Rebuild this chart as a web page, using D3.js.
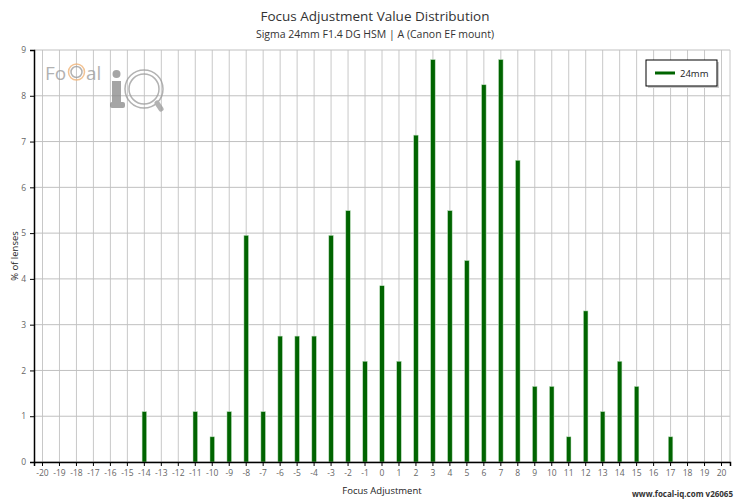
<!DOCTYPE html>
<html>
<head>
<meta charset="utf-8">
<script src="https://cdn.jsdelivr.net/npm/d3@7"></script>
<style>
  body { margin: 0; background: #fff; }
  text { font-family: "Open Sans", sans-serif; }
</style>
</head>
<body>
<svg id="chart" width="750" height="500"></svg>
<script>
// Data
var adjustments = d3.range(-20, 21);
var barSteps = [-14, -11, -10, -9, -8, -7, -6, -5, -4, -3, -2, -1, 0, 1, 2, 3, 4, 5, 6, 7, 8, 9, 10, 11, 12, 13, 14, 15, 17];
var barPercents = [1.1, 1.1, 0.55, 1.1, 4.95, 1.1, 2.75, 2.75, 2.75, 4.95, 5.49, 2.2, 3.85, 2.2, 7.14, 8.79, 5.49, 4.4, 8.24, 8.79, 6.59, 1.65, 1.65, 0.55, 3.3, 1.1, 2.2, 1.65, 0.55];
var yTicks = [0, 1, 2, 3, 4, 5, 6, 7, 8, 9];
var seriesName = "24mm";

var svg = d3.select("#chart");
var plotLeft = 34, plotRight = 730, plotTop = 50, plotBottom = 462;

var x = d3.scaleBand().domain(adjustments).range([plotLeft, plotRight]);
var y = d3.scaleLinear().domain([0, 9]).range([plotBottom, plotTop]);

// gridlines
var grid = svg.append("g");
grid.selectAll("line.v").data(adjustments).enter().append("line")
  .attr("x1", function(d) { return x(d) + x.bandwidth()/2; })
  .attr("x2", function(d) { return x(d) + x.bandwidth()/2; })
  .attr("y1", plotTop).attr("y2", plotBottom)
  .style("stroke", "#c8c8c8").style("stroke-width", 1);
grid.selectAll("line.h").data(yTicks).enter().append("line")
  .attr("x1", plotLeft).attr("x2", plotRight)
  .attr("y1", function(d) { return y(d); })
  .attr("y2", function(d) { return y(d); })
  .style("stroke", "#c0c0c0").style("stroke-width", 1);
grid.append("line").attr("x1", plotRight).attr("x2", plotRight).attr("y1", plotTop).attr("y2", plotBottom)
  .style("stroke", "#c8c8c8");

// logo watermark
var logo = svg.append("g").attr("opacity", 0.75);
logo.append("text").attr("x", 45).attr("y", 80).text("Fo")
  .style("font-size", "19px").style("fill", "#999");
logo.append("circle").attr("cx", 76.5).attr("cy", 72).attr("r", 8)
  .style("fill", "none").style("stroke", "#f0b070").style("stroke-width", 1.5);
logo.append("circle").attr("cx", 76.5).attr("cy", 72).attr("r", 5.5)
  .style("fill", "none").style("stroke", "#999").style("stroke-width", 1.5);
logo.append("text").attr("x", 86).attr("y", 80).text("al")
  .style("font-size", "19px").style("fill", "#999");
logo.append("circle").attr("cx", 116.5).attr("cy", 74).attr("r", 4).style("fill", "#888");
logo.append("rect").attr("x", 112).attr("y", 81).attr("width", 9).attr("height", 26).style("fill", "#888");
logo.append("rect").attr("x", 110).attr("y", 102).attr("width", 15).attr("height", 6).attr("rx", 2).style("fill", "#888");
logo.append("circle").attr("cx", 144).attr("cy", 89).attr("r", 19)
  .style("fill", "none").style("stroke", "#999").style("stroke-width", 1.5);
logo.append("circle").attr("cx", 144).attr("cy", 89).attr("r", 15)
  .style("fill", "none").style("stroke", "#999").style("stroke-width", 1.5);
logo.append("line").attr("x1", 157).attr("y1", 103).attr("x2", 161).attr("y2", 109)
  .style("stroke", "#999").style("stroke-width", 5).style("stroke-linecap", "round");

// bars
var bw = 4.5;
svg.append("g").selectAll("rect").data(barSteps).enter().append("rect")
  .attr("x", function(d) { return x(d) + x.bandwidth()/2 - bw/2; })
  .attr("y", function(d, i) { return y(barPercents[i]); })
  .attr("width", bw)
  .attr("height", function(d, i) { return plotBottom - y(barPercents[i]); })
  .style("fill", "#006400")
  .style("stroke", "#b8dcb8").style("stroke-width", 0.5);

// axes
var yAxis = svg.append("g").attr("transform", "translate(" + plotLeft + ",0)")
  .call(d3.axisLeft(y).tickValues(yTicks).tickSize(4).tickFormat(d3.format("d")));
var xAxis = svg.append("g").attr("transform", "translate(0," + plotBottom + ")")
  .call(d3.axisBottom(x).tickSize(4));
[yAxis, xAxis].forEach(function(a) {
  a.select(".domain").style("stroke", "#000").style("stroke-width", 1.5);
  a.selectAll(".tick line").style("stroke", "#000");
  a.selectAll(".tick text").style("fill", "#666").style("font-size", "8.5px")
    .style("font-family", "'Open Sans', sans-serif");
});
yAxis.selectAll(".tick text").attr("x", -8);
xAxis.selectAll(".tick text").attr("y", 8);

// titles
svg.append("text").attr("x", 375).attr("y", 21).attr("text-anchor", "middle")
  .text("Focus Adjustment Value Distribution")
  .style("font-size", "13.5px").style("fill", "#333");
svg.append("text").attr("x", 375).attr("y", 38).attr("text-anchor", "middle")
  .text("Sigma 24mm F1.4 DG HSM | A (Canon EF mount)")
  .style("font-size", "10.5px").style("fill", "#333");
svg.append("text").attr("x", 382).attr("y", 494).attr("text-anchor", "middle")
  .text("Focus Adjustment").style("font-size", "9.5px").style("fill", "#222");
svg.append("text").attr("transform", "translate(18,256) rotate(-90)").attr("text-anchor", "middle")
  .text("% of lenses").style("font-size", "9.5px").style("fill", "#222");
svg.append("text").attr("x", 733).attr("y", 497).attr("text-anchor", "end")
  .text("www.focal-iq.com  v26065").style("font-size", "8px").style("font-weight", "bold").style("fill", "#333");

// legend
var lg = svg.append("g");
lg.append("rect").attr("x", 648).attr("y", 62).attr("width", 71).attr("height", 26).style("fill", "#ccc");
lg.append("rect").attr("x", 646).attr("y", 60).attr("width", 71).attr("height", 26)
  .style("fill", "#fff").style("stroke", "#000").style("stroke-width", 1);
lg.append("line").attr("x1", 655).attr("x2", 675).attr("y1", 73).attr("y2", 73)
  .style("stroke", "#006400").style("stroke-width", 3);
lg.append("text").attr("x", 680).attr("y", 77).text(seriesName)
  .style("font-size", "9.5px").style("fill", "#222");
</script>
</body>
</html>
